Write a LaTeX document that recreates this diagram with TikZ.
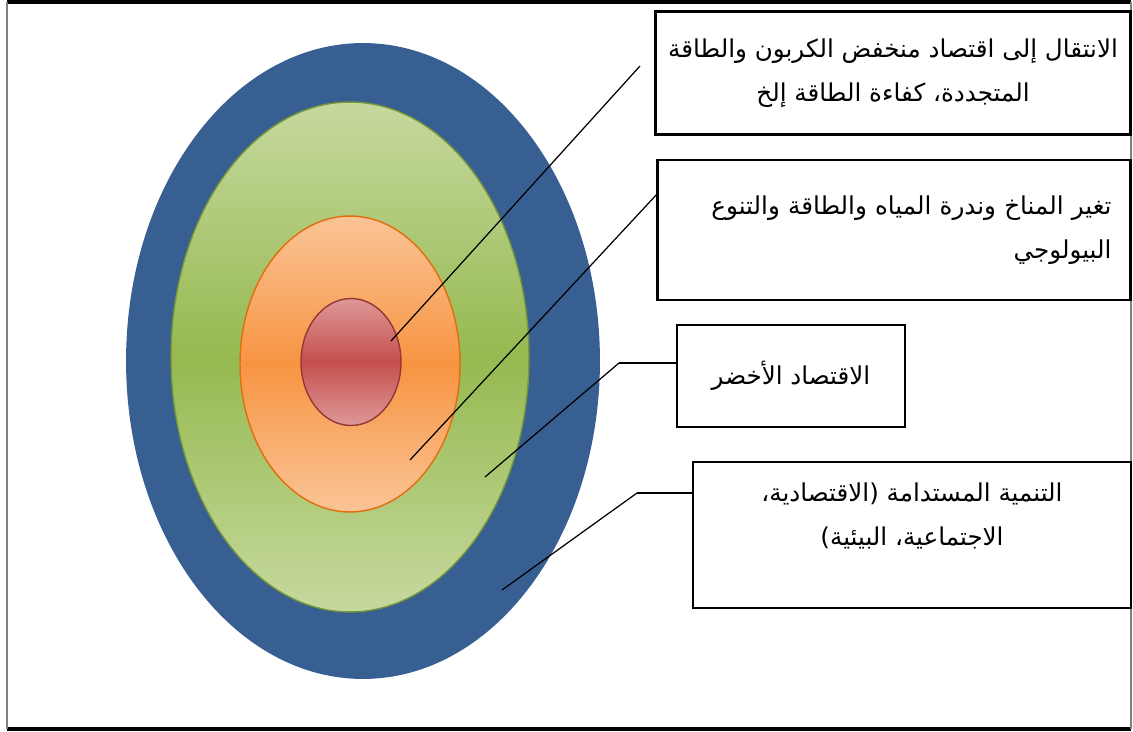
\documentclass[tikz,border=0pt]{standalone}
\usepackage{fontspec}
\usepackage{tikz}
\usetikzlibrary{shapes.geometric}

\TeXXeTstate=1
\newfontfamily\arabicfont[Script=Arabic]{DejaVu Sans}

\definecolor{ringblue}{RGB}{56,95,145}
\definecolor{greenlight}{RGB}{198,217,158}
\definecolor{greenmid}{RGB}{150,185,80}
\definecolor{greenrim}{RGB}{118,150,58}
\definecolor{orangelight}{RGB}{250,196,150}
\definecolor{orangemid}{RGB}{247,148,66}
\definecolor{orangerim}{RGB}{228,108,10}
\definecolor{redlight}{RGB}{222,152,152}
\definecolor{redmid}{RGB}{196,80,77}
\definecolor{redrim}{RGB}{150,54,52}

\begin{document}
\begin{tikzpicture}[
    x = 0.02cm, y = -0.02cm,
    %
    ring/.style = {ellipse,
      inner sep = 0pt},
    %
    labelbox/.style = {draw,
      line width = 1.6pt,
      fill = white,
      inner sep = 0pt,
      align = center,
      font = \arabicfont\fontsize{14}{25}\selectfont},
    %
    leader/.style = {line width = 0.7pt},
    stub/.style = {line width = 1.6pt},
    ]

    \useasboundingbox (0, 0) rectangle (1133, 731);

    % frame
    \draw [line width = 1.8pt] (7, 2) -- (1131, 2);
    \draw [line width = 1.8pt] (7, 729) -- (1131, 729);
    \draw [gray, line width = 1pt] (7, 2) -- (7, 729);
    \draw [gray, line width = 1pt] (1131, 2) -- (1131, 729);

    % rings
    \node at (363, 361)
    [ring, fill = ringblue,
      minimum width = 9.48cm, minimum height = 12.72cm, name = blue] {};
    \node at (350, 357)
    [ring, draw = greenrim, line width = 0.8pt,
      top color = greenlight, bottom color = greenlight, middle color = greenmid,
      minimum width = 7.16cm, minimum height = 10.2cm, name = green] {};
    \node at (350, 364)
    [ring, draw = orangerim, line width = 0.8pt,
      top color = orangelight, bottom color = orangelight, middle color = orangemid,
      minimum width = 4.4cm, minimum height = 5.92cm, name = orange] {};
    \node at (351, 362)
    [ring, draw = redrim, line width = 0.8pt,
      top color = redlight, bottom color = redlight, middle color = redmid,
      minimum width = 2cm, minimum height = 2.54cm, name = red] {};

    % boxes
    \node at (893, 73)
    [labelbox, minimum width = 9.5cm, minimum height = 2.46cm, name = box1]
    {\beginR الانتقال إلى اقتصاد منخفض الكربون والطاقة\endR\\
      \beginR المتجددة، كفاءة الطاقة إلخ\endR};

    \node at (894, 230)
    [labelbox, align = right, text width = 8.7cm,
      minimum width = 9.46cm, minimum height = 2.8cm, name = box2]
    {\beginR تغير المناخ وندرة المياه والطاقة والتنوع\endR\\
      \beginR البيولوجي\endR};

    \node at (791, 376)
    [labelbox, minimum width = 4.56cm, minimum height = 2.04cm, name = box3]
    {\beginR الاقتصاد الأخضر\endR};

    \node at (912, 535)
    [labelbox, text depth = 0.85cm,
      minimum width = 8.76cm, minimum height = 2.92cm, name = box4]
    {\beginR التنمية المستدامة (الاقتصادية،\endR\\
      \beginR الاجتماعية، البيئية)\endR};

    % leader lines
    \coordinate (p_red) at (391, 341);
    \coordinate (p_orange) at (410, 460);
    \coordinate (p_green) at (485, 477);
    \coordinate (p_blue) at (502, 590);
    \coordinate (end_1) at (640, 66);
    \coordinate (bend_3) at (619, 363);
    \coordinate (bend_4) at (637, 493);

    \draw [leader] (p_red) -- (end_1);
    \draw [leader] (p_orange) -- ([shift = {(0, -35)}] box2.west);

    \draw [leader] (p_green) -- (bend_3);
    \draw [stub] (bend_3) -- (bend_3 -| box3.west);

    \draw [leader] (p_blue) -- (bend_4);
    \draw [stub] (bend_4) -- (bend_4 -| box4.west);

\end{tikzpicture}
\end{document}
